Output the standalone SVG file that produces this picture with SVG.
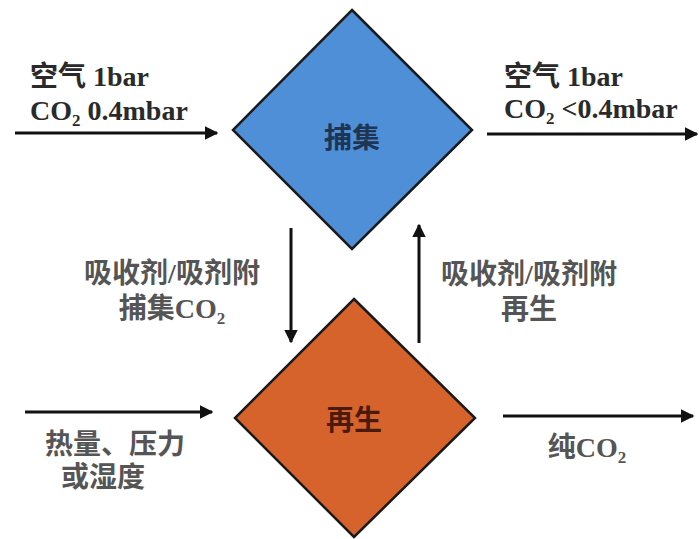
<svg xmlns="http://www.w3.org/2000/svg" width="699" height="539" viewBox="0 0 699 539">
<style>
.t{font-family:"Liberation Serif","Noto Sans CJK SC",serif;font-weight:bold;font-size:28px;fill:#2a2a2a}
.m{fill:#555}
.sub{font-size:17px}
.ln{stroke:#111;stroke-width:3;fill:none}
.d{stroke:#1a1a1a;stroke-width:2.5}
</style>
<defs>
<marker id="ah" viewBox="0 0 10 10" refX="9" refY="5" markerWidth="4.5" markerHeight="4.5" orient="auto" markerUnits="strokeWidth">
<path d="M0,0 L10,5 L0,10 z" fill="#111"/>
</marker>
</defs>
<rect width="699" height="539" fill="#fff"/>
<g id="capture">
<polygon class="d" points="352,10 472,130 352,249 233,130" fill="#4e8fd8"/>
<text x="352" y="148" text-anchor="middle" class="t" style="fill:#1e3553">捕集</text>
</g>
<g id="regen">
<polygon class="d" points="354,299 475,418 354,537 235,418" fill="#d6622c"/>
<text x="354" y="430" text-anchor="middle" class="t" style="fill:#4a1a0c">再生</text>
</g>
<g id="connectors">
<line class="ln" x1="15" y1="133" x2="217" y2="133" marker-end="url(#ah)"/>
<line class="ln" x1="487" y1="134" x2="697" y2="134" marker-end="url(#ah)"/>
<line class="ln" x1="291" y1="228" x2="291" y2="342" marker-end="url(#ah)"/>
<line class="ln" x1="419" y1="343" x2="419" y2="225" marker-end="url(#ah)"/>
<line class="ln" x1="25" y1="412" x2="212" y2="412" marker-end="url(#ah)"/>
<line class="ln" x1="503" y1="416" x2="693" y2="416" marker-end="url(#ah)"/>
</g>
<g id="labels">
<text x="30" y="86" class="t">空气 1bar</text>
<text x="30" y="120" class="t">CO<tspan class="sub" dy="6">2</tspan><tspan dy="-6"> 0.4mbar</tspan></text>
<text x="504" y="86" class="t">空气 1bar</text>
<text x="504" y="118" class="t">CO<tspan class="sub" dy="6">2</tspan><tspan dy="-6"> &lt;0.4mbar</tspan></text>
<text x="172" y="283" text-anchor="middle" class="t m">吸收剂/吸剂附</text>
<text x="172" y="318" text-anchor="middle" class="t m">捕集CO<tspan class="sub" dy="6">2</tspan></text>
<text x="529" y="284" text-anchor="middle" class="t m">吸收剂/吸剂附</text>
<text x="529" y="319" text-anchor="middle" class="t m">再生</text>
<text x="115" y="454" text-anchor="middle" class="t m">热量、压力</text>
<text x="103" y="487" text-anchor="middle" class="t m">或湿度</text>
<text x="587" y="457" text-anchor="middle" class="t m">纯CO<tspan class="sub" dy="6">2</tspan></text>
</g>
</svg>
